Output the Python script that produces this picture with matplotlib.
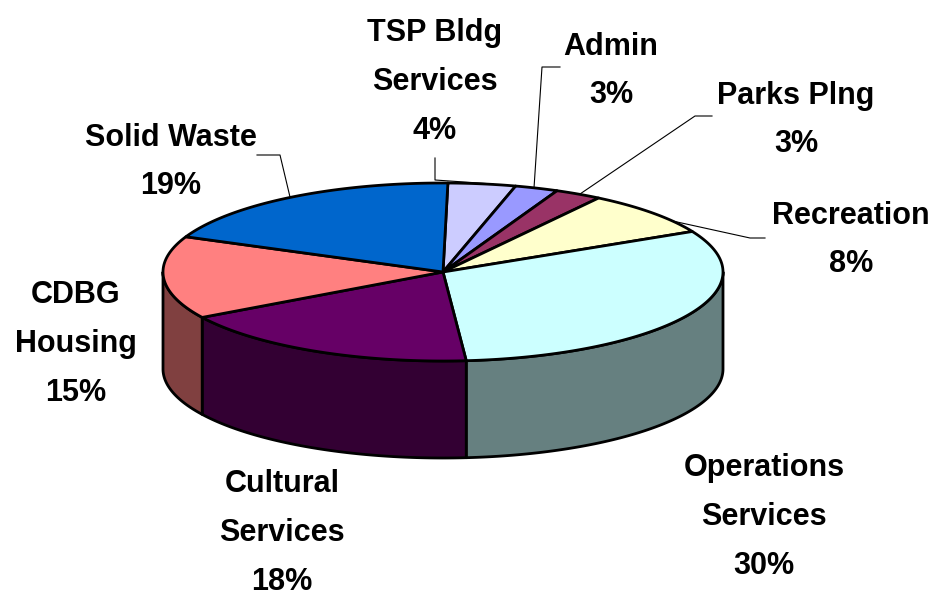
import numpy as np
import matplotlib
matplotlib.use('Agg')
import matplotlib.pyplot as plt

# slices clockwise from the top, shares
names = ['TSP Bldg\nServices\n4%', 'Admin\n3%', 'Parks Plng\n3%', 'Recreation\n8%',
         'Operations\nServices\n30%', 'Cultural\nServices\n18%', 'CDBG\nHousing\n15%',
         'Solid Waste\n19%']
shares = [3.9, 2.5, 2.7, 8.1, 31.2, 17.8, 15.0, 18.8]
top_colors = ['#CCCCFF', '#9999FF', '#993366', '#FFFFCC', '#CCFFFF', '#660066', '#FF8080', '#0066CC']
side_colors = ['#666680', '#4D4D80', '#4D1A33', '#808066', '#668080', '#330033', '#804040', '#003366']

# pie geometry in pixels
CX, CY = 443, 272
RX, RY = 280, 89
DEPTH = 97
START = 1.0

label_pos = [(435, 82), (611, 71), (796, 120), (851, 240),
             (764, 517), (282, 533), (76, 344), (171, 162)]
leaders = [[(435, 158), (435, 180), (493, 184)],
           [(560, 67), (542, 67), (534, 188)],
           [(712, 116), (695, 116), (580, 194)],
           [(765, 238), (750, 238), (668, 220)],
           [(257, 155), (280, 155), (290, 197)]]


def rim(a, b, n=120):
    t = np.radians(np.linspace(a, b, n))
    return CX + RX * np.sin(t), CY - RY * np.cos(t)


fig = plt.figure(figsize=(9.32, 5.93), dpi=100)
ax = fig.add_axes([0, 0, 1, 1])
ax.set_xlim(0, 932)
ax.set_ylim(593, 0)
ax.axis('off')

edges = START + np.cumsum([0] + shares) * 3.6

# side wall, only the front half of the rim shows
for i in range(len(shares)):
    a = max(edges[i], 90)
    b = min(edges[i + 1], 270)
    if a >= b:
        continue
    x, y = rim(a, b)
    ax.fill(np.r_[x, x[::-1]], np.r_[y, y[::-1] + DEPTH], fc=side_colors[i],
            ec='black', lw=2, joinstyle='round', zorder=2)

# top face
for i in range(len(shares)):
    x, y = rim(edges[i], edges[i + 1])
    ax.fill(np.r_[CX, x], np.r_[CY, y], fc=top_colors[i],
            ec='black', lw=2, joinstyle='round', zorder=3)

for pts in leaders:
    ax.plot(*zip(*pts), color='black', lw=0.8, zorder=1)

for name, (x, y) in zip(names, label_pos):
    ax.text(x, y, name, ha='center', va='center', multialignment='center',
            family='Liberation Sans', weight='bold', fontsize=22, linespacing=1.81)

fig.savefig('out.png', dpi=100, facecolor='white')
